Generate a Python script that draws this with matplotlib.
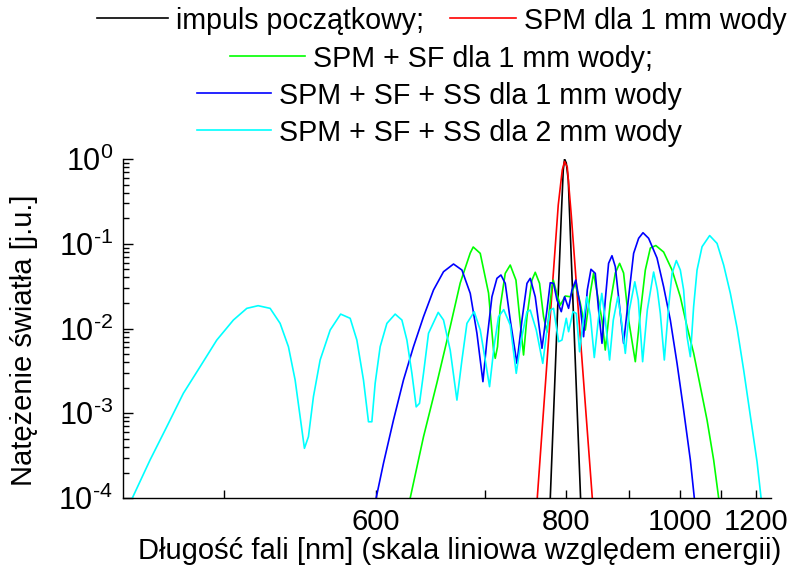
# Widmo impulsu po przejsciu przez wode (SPM, SF, SS)
# os x liniowa wzgledem energii fotonu, opisana w nm

import math
import matplotlib.pyplot as plt
from matplotlib.lines import Line2D
from matplotlib.ticker import FuncFormatter

plt.rcParams['font.family'] = ['Liberation Sans', 'DejaVu Sans']
plt.rcParams['mathtext.fontset'] = 'custom'
plt.rcParams['mathtext.rm'] = 'Liberation Sans'
plt.rcParams['mathtext.it'] = 'Liberation Sans:italic'
plt.rcParams['mathtext.default'] = 'regular'

HC = 1239.84  # eV*nm, przeliczenie energia <-> dlugosc fali

# --- DANE: energia fotonu [eV] i natezenie [j.u.] ---
E_impuls = [1.5923, 1.5814, 1.5706, 1.5624, 1.5570, 1.5534, 1.5488, 1.5433,
            1.5352, 1.5243, 1.5099]
I_impuls = [1e-4, 1.64e-3, 2.62e-2, 0.213, 0.742, 1.0, 0.897, 0.565,
            6.79e-2, 4.14e-3, 1e-4]

E_spm = [1.6277, 1.6059, 1.5869, 1.5706, 1.5597, 1.5534, 1.5461, 1.5352,
         1.5161, 1.4971, 1.4780]
I_spm = [1e-4, 2.10e-3, 3.01e-2, 0.287, 0.742, 0.934, 0.805, 0.218,
         1.65e-2, 1.29e-3, 1e-4]

E_spm_sf = [1.9733, 1.9371, 1.9007, 1.8645, 1.8373, 1.8100, 1.8019, 1.7828,
            1.7602, 1.7466, 1.7420, 1.7358, 1.7284, 1.7148, 1.7012, 1.6857,
            1.6740, 1.6650, 1.6557, 1.6421, 1.6332, 1.6215, 1.6106, 1.6013,
            1.5877, 1.5842, 1.5733, 1.5651, 1.5515, 1.5379, 1.5243, 1.5107,
            1.4971, 1.4835, 1.4745, 1.4516, 1.4427, 1.4291, 1.4154, 1.4037,
            1.3929, 1.3792, 1.3610, 1.3474, 1.3338, 1.3202, 1.3052, 1.2840,
            1.2611, 1.2386, 1.2203, 1.2024, 1.1841, 1.1659, 1.1479, 1.1343]
I_spm_sf = [1e-4, 5.29e-4, 2.28e-3, 1.05e-2, 3.44e-2, 7.78e-2, 9.16e-2, 7.71e-2,
            2.62e-2, 5.57e-3, 4.45e-3, 6.10e-3, 1.81e-2, 4.48e-2, 5.61e-2, 3.73e-2,
            1.16e-2, 4.87e-3, 1.38e-2, 3.73e-2, 4.61e-2, 3.41e-2, 1.38e-2, 9.09e-3,
            3.11e-2, 3.73e-2, 2.48e-2, 1.89e-2, 2.42e-2, 2.37e-2, 3.41e-2, 2.00e-2,
            9.60e-3, 2.62e-2, 4.52e-2, 1.26e-2, 5.57e-3, 2.00e-2, 4.52e-2, 5.88e-2,
            4.52e-2, 1.26e-2, 4.06e-3, 1.52e-2, 4.90e-2, 8.91e-2, 9.53e-2, 7.99e-2,
            4.90e-2, 2.37e-2, 1.05e-2, 5.14e-3, 2.06e-3, 8.32e-4, 2.81e-4, 1e-4]

E_ss_1mm = [2.0659, 2.0460, 2.0188, 1.9916, 1.9644, 1.9371, 1.9099, 1.8827,
            1.8555, 1.8326, 1.8100, 1.7918, 1.7828, 1.7755, 1.7646, 1.7510,
            1.7374, 1.7265, 1.7148, 1.7012, 1.6830, 1.6693, 1.6557, 1.6468,
            1.6332, 1.6149, 1.6013, 1.5923, 1.5834, 1.5741, 1.5624, 1.5534,
            1.5425, 1.5333, 1.5229, 1.5107, 1.5017, 1.4916, 1.4816, 1.4699,
            1.4609, 1.4516, 1.4427, 1.4337, 1.4245, 1.4154, 1.4018, 1.3929,
            1.3801, 1.3656, 1.3520, 1.3401, 1.3248, 1.3020, 1.2840, 1.2658,
            1.2475, 1.2296, 1.2113, 1.2005]
I_ss_1mm = [1e-4, 2.57e-4, 8.32e-4, 2.47e-3, 6.10e-3, 1.38e-2, 2.85e-2, 4.68e-2,
            5.77e-2, 4.90e-2, 2.60e-2, 8.78e-3, 4.25e-3, 2.36e-3, 7.31e-3, 2.37e-2,
            3.91e-2, 4.28e-2, 3.41e-2, 1.26e-2, 3.88e-3, 1.26e-2, 3.41e-2, 3.91e-2,
            2.37e-2, 5.84e-3, 1.65e-2, 3.47e-2, 3.41e-2, 2.17e-2, 1.58e-2, 2.37e-2,
            1.73e-2, 2.85e-2, 3.73e-2, 1.81e-2, 8.00e-3, 2.85e-2, 5.00e-2, 4.48e-2,
            1.65e-2, 6.69e-3, 2.17e-2, 5.88e-2, 7.23e-2, 5.36e-2, 1.51e-2, 6.69e-3,
            2.17e-2, 7.71e-2, 0.116, 0.135, 0.116, 6.79e-2, 3.11e-2, 1.26e-2,
            3.88e-3, 1.09e-3, 2.81e-4, 1e-4]

E_ss_2mm = [2.7291, 2.6809, 2.6354, 2.5903, 2.5448, 2.4994, 2.4542, 2.4177,
            2.3870, 2.3543, 2.3271, 2.3045, 2.2863, 2.2727, 2.2610, 2.2501,
            2.2365, 2.2183, 2.1910, 2.1625, 2.1366, 2.1184, 2.1004, 2.0868,
            2.0776, 2.0686, 2.0550, 2.0367, 2.0142, 1.9959, 1.9823, 1.9687,
            1.9570, 1.9480, 1.9371, 1.9235, 1.8971, 1.8827, 1.8645, 1.8462,
            1.8326, 1.8190, 1.7992, 1.7828, 1.7692, 1.7575, 1.7447, 1.7330,
            1.7189, 1.7012, 1.6849, 1.6713, 1.6557, 1.6468, 1.6304, 1.6127,
            1.6013, 1.5923, 1.5834, 1.5697, 1.5605, 1.5488, 1.5425, 1.5306,
            1.5216, 1.5126, 1.5025, 1.4925, 1.4835, 1.4726, 1.4617, 1.4522,
            1.4427, 1.4310, 1.4209, 1.4086, 1.3991, 1.3882, 1.3773, 1.3624,
            1.3529, 1.3411, 1.3284, 1.3112, 1.3011, 1.2930, 1.2821, 1.2704,
            1.2611, 1.2494, 1.2386, 1.2296, 1.2203, 1.2113, 1.2024, 1.1931,
            1.1795, 1.1588, 1.1387, 1.1207, 1.1025, 1.0842, 1.0663, 1.0481,
            1.0298, 1.0189]
I_ss_2mm = [1e-4, 2.81e-4, 6.94e-4, 1.72e-3, 3.54e-3, 7.31e-3, 1.26e-2, 1.73e-2,
            1.86e-2, 1.73e-2, 1.15e-2, 6.10e-3, 2.47e-3, 9.10e-4, 3.86e-4, 5.29e-4,
            1.57e-3, 4.25e-3, 9.60e-3, 1.48e-2, 1.32e-2, 7.31e-3, 2.47e-3, 7.94e-4,
            7.94e-4, 2.26e-3, 6.10e-3, 1.15e-2, 1.48e-2, 1.26e-2, 7.31e-3, 2.96e-3,
            1.19e-3, 1.31e-3, 2.96e-3, 8.78e-3, 1.55e-2, 1.26e-2, 5.57e-3, 1.43e-3,
            4.25e-3, 1.15e-2, 1.58e-2, 9.60e-3, 4.25e-3, 2.06e-3, 6.38e-3, 1.38e-2,
            1.67e-2, 1.10e-2, 2.96e-3, 7.31e-3, 1.58e-2, 1.65e-2, 9.60e-3, 3.88e-3,
            9.60e-3, 1.65e-2, 1.73e-2, 6.99e-3, 7.31e-3, 1.32e-2, 9.17e-3, 1.58e-2,
            1.51e-2, 5.32e-3, 1.26e-2, 2.37e-2, 1.44e-2, 4.55e-3, 1.26e-2, 2.60e-2,
            1.26e-2, 4.25e-3, 1.26e-2, 2.37e-2, 1.26e-2, 5.09e-3, 1.65e-2, 3.56e-2,
            2.17e-2, 4.06e-3, 1.65e-2, 4.64e-2, 2.85e-2, 1.51e-2, 4.25e-3, 1.81e-2,
            4.48e-2, 6.34e-2, 4.90e-2, 2.85e-2, 8.00e-3, 4.65e-3, 1.81e-2, 4.90e-2,
            9.23e-2, 0.125, 0.101, 5.61e-2, 2.60e-2, 1.01e-2, 3.24e-3, 9.29e-4,
            2.66e-4, 1e-4]

tick_nm = [500, 600, 700, 800, 900, 1000, 1100, 1200]
tick_labels = ['', '600', '', '800', '', '1000', '', '1200']
zakres_nm = (450, 1250)

serie = [
    (E_impuls, I_impuls, 'black', 'impuls początkowy;'),
    (E_spm, I_spm, '#ff0000', 'SPM dla 1 mm wody'),
    (E_spm_sf, I_spm_sf, '#00ff00', 'SPM + SF dla 1 mm wody;'),
    (E_ss_1mm, I_ss_1mm, '#0000ff', 'SPM + SF + SS dla 1 mm wody'),
    (E_ss_2mm, I_ss_2mm, '#00ffff', 'SPM + SF + SS dla 2 mm wody'),
]

W, H = 798, 571
FS = 21
FS_LEG = 20.6


def potega(v, pos):
    # 10^k z krotkim lacznikiem zamiast minusa, jak w oryginale
    k = int(round(math.log10(v)))
    if k < 0:
        return r'$10^{\text{-}%d}$' % (-k)
    return r'$10^{%d}$' % k


def main():
    fig = plt.figure(figsize=(W / 100, H / 100), dpi=100)
    ax = fig.add_axes([0.1538, 0.1278, 0.8124, 0.5937])

    for e, i, kolor, _ in serie:
        ax.plot(e, i, color=kolor, lw=1.2)

    ax.set_yscale('log')
    ax.set_ylim(1e-4, 1)
    ax.yaxis.set_major_formatter(FuncFormatter(potega))
    # os odwrocona: wieksza energia po lewej
    ax.set_xlim(HC / zakres_nm[0], HC / zakres_nm[1])
    ax.set_xticks([HC / nm for nm in tick_nm], tick_labels)

    for s in ['top', 'right']:
        ax.spines[s].set_visible(False)
    for s in ['left', 'bottom']:
        ax.spines[s].set_linewidth(1.0)
    ax.tick_params(which='both', direction='in', width=1.0)
    ax.tick_params(axis='y', which='major', length=7, pad=7, labelsize=22)
    ax.tick_params(axis='y', which='minor', length=4)
    ax.tick_params(axis='x', which='major', length=6, pad=7, labelsize=21)

    ax.set_ylabel('Natężenie światła [j.u.]', fontsize=FS)
    ax.yaxis.set_label_coords(-0.131, 0.465)
    ax.set_xlabel('Długość fali [nm] (skala liniowa względem energii)', fontsize=FS)
    ax.xaxis.set_label_coords(0.52, -0.115)

    # --- legenda recznie (uklad jak w oryginale) ---
    wpisy = [
        (97, 168, 18, 0),
        (450, 516, 18, 1),
        (230, 305, 56, 2),
        (197, 271, 93, 3),
        (197, 271, 130, 4),
    ]
    for x0, x1, y, k in wpisy:
        kolor, tekst = serie[k][2], serie[k][3]
        fig.add_artist(Line2D([x0 / W, x1 / W], [1 - y / H, 1 - y / H],
                              color=kolor, lw=1.2))
        fig.text((x1 + 8) / W, 1 - y / H, tekst, fontsize=FS_LEG,
                 ha='left', va='center_baseline')

    fig.savefig('out.png', dpi=100)


if __name__ == "__main__":
    main()
